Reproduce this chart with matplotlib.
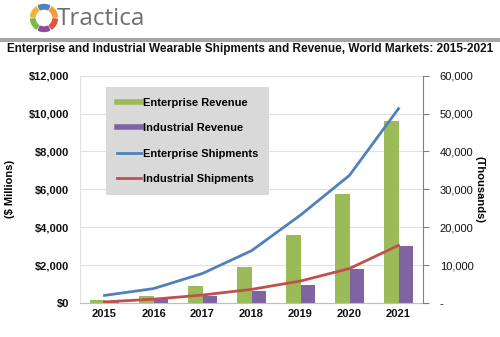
import matplotlib
matplotlib.use("Agg")
import matplotlib.pyplot as plt
import numpy as np
from matplotlib.patches import Wedge, Rectangle
from matplotlib.lines import Line2D
from matplotlib.ticker import FuncFormatter

years = ["2015", "2016", "2017", "2018", "2019", "2020", "2021"]
enterprise_revenue = [150, 370, 900, 1900, 3600, 5750, 9600]
industrial_revenue = [60, 250, 380, 650, 960, 1770, 3030]
enterprise_shipments = [2000, 3800, 7800, 13800, 23200, 33700, 51300]
industrial_shipments = [300, 1000, 2100, 3600, 5800, 9100, 15200]
left_ticks = [0, 2000, 4000, 6000, 8000, 10000, 12000]
right_ticks = [0, 10000, 20000, 30000, 40000, 50000, 60000]

GREEN = "#9BBB59"
PURPLE = "#8064A2"
BLUE = "#4F81BD"
RED = "#C0504D"
FONT = "Liberation Sans"

plt.rcParams['font.family'] = [FONT, 'DejaVu Sans']

fig = plt.figure(figsize=(5, 3.37), dpi=100)
fig.patch.set_facecolor("white")

# Header: logo
la = fig.add_axes([0, 0.88, 1, 0.12])
la.set_xlim(0, 500)
la.set_ylim(40.44, 0)
la.set_aspect("equal")
la.axis("off")
cx, cy, r = 44, 18, 13.5
segs = [(60, 120, "#4F81BD"), (0, 60, "#F39C3A"), (-60, 0, "#E0533D"),
        (-120, -60, "#8E4B9E"), (-180, -120, "#7DB946"), (120, 180, "#F5B335")]
for a0, a1, c in segs:
    la.add_patch(Wedge((cx, cy), r, -a1 + 5, -a0 - 5, width=4.5, color=c))
la.text(57, 19, "Tractica", fontsize=17.5, color="#6D6E71", va="center", ha="left",
        family=["Open Sans", "DejaVu Sans"])

# gray bar
fig.add_artist(Rectangle((0, 1 - 41.5 / 337), 1, 3.5 / 337, transform=fig.transFigure,
                         color="#A6A6A6", lw=0))

fig.text(0.5, 1 - 49 / 337, "Enterprise and Industrial Wearable Shipments and Revenue, World Markets: 2015-2021",
         ha="center", va="center", fontsize=8.5, fontweight="bold", color="#111111")

ax = fig.add_axes([0.16, 0.1009, 0.686, 0.6745])
ax2 = ax.twinx()
x = np.arange(len(years))
w = 0.29
ax.bar(x - w / 2, enterprise_revenue, w, color=GREEN, zorder=2)
ax.bar(x + w / 2, industrial_revenue, w, color=PURPLE, zorder=2)
ax.set_ylim(0, 12000)
ax.set_xlim(-0.5, len(years) - 0.5)
ax.set_yticks(left_ticks)
ax.yaxis.set_major_formatter(FuncFormatter(lambda v, p: "${:,.0f}".format(v)))
ax.set_xticks(x)
ax.set_xticklabels(years)
ax.grid(axis="y", color="#E0E0E0", lw=0.8, zorder=0)
ax.set_axisbelow(True)
for s in ["top", "right"]:
    ax.spines[s].set_visible(False)
ax.spines["left"].set_color("#E0E0E0")
ax.spines["bottom"].set_color("#BFBFBF")
ax.tick_params(axis="y", length=0, pad=8, labelsize=8, colors="#111111")
ax.tick_params(axis="x", length=0, pad=4, labelsize=8, colors="#111111")
for t in ax.get_yticklabels() + ax.get_xticklabels():
    t.set_fontweight("bold")
ax.set_ylabel("($ Millions)", fontsize=8, fontweight="bold", labelpad=10)

ax2.plot(x, enterprise_shipments, color=BLUE, lw=2, zorder=3)
ax2.plot(x, industrial_shipments, color=RED, lw=2, zorder=3)
ax2.set_ylim(0, 60000)
ax2.set_yticks(right_ticks)
ax2.yaxis.set_major_formatter(FuncFormatter(lambda v, p: "-" if v == 0 else "{:,.0f}".format(v)))
for s in ["top", "left", "bottom"]:
    ax2.spines[s].set_visible(False)
ax2.spines["right"].set_color("#808080")
ax2.tick_params(axis="y", length=4, color="#808080", pad=8, labelsize=8, colors="#111111")
ax2.set_ylabel("(Thousands)", fontsize=8, rotation=-90, labelpad=8, fontweight="bold")

handles = [Line2D([], [], color=GREEN, lw=4), Line2D([], [], color=PURPLE, lw=4),
           Line2D([], [], color=BLUE, lw=2), Line2D([], [], color=RED, lw=2)]
labels = ["Enterprise Revenue", "Industrial Revenue", "Enterprise Shipments", "Industrial Shipments"]
leg = ax2.legend(handles, labels, loc="upper left", bbox_to_anchor=(0.076, 0.95),
                 frameon=True, fancybox=False, facecolor="#D9D9D9", edgecolor="#D9D9D9",
                 framealpha=1, prop={"family": FONT, "weight": "bold", "size": 8},
                 handlelength=2.2, handletextpad=0.15, labelspacing=1.4,
                 borderpad=0.95, borderaxespad=0)
leg.get_frame().set_linewidth(0)

fig.savefig("out.png", dpi=100, facecolor="white")
